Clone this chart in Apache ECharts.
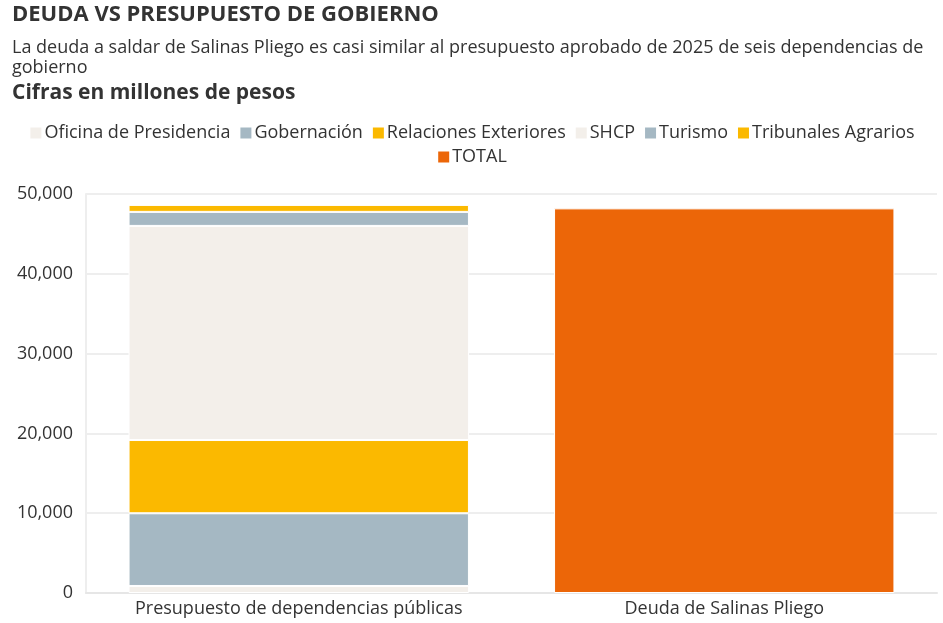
<!DOCTYPE html>
<html>
<head>
<meta charset="utf-8">
<script src="https://cdn.jsdelivr.net/npm/echarts@6/dist/echarts.min.js"></script>
<style>
  html, body { margin: 0; padding: 0; background: #fff; }
  #chart { width: 943px; height: 623px; }
</style>
</head>
<body>
<div id="chart"></div>
<script>
// datos en millones de pesos
const categories = ['Presupuesto de dependencias públicas', 'Deuda de Salinas Pliego'];
const seriesNames = ['Oficina de Presidencia', 'Gobernación', 'Relaciones Exteriores', 'SHCP', 'Turismo', 'Tribunales Agrarios', 'TOTAL'];
const oficina = [880, null];
const gobernacion = [9110, null];
const relaciones = [9180, null];
const shcp = [26830, null];
const turismo = [1760, null];
const tribunales = [870, null];
const total = [null, 48200];
const colors = ['#F3EFEA', '#A5B8C3', '#FBB900', '#F3EFEA', '#A5B8C3', '#FBB900', '#EC6608'];
const yTicks = [0, 10000, 20000, 30000, 40000, 50000];

const values = [oficina, gobernacion, relaciones, shcp, turismo, tribunales, total];
const font = '"Open Sans", "Noto Sans", sans-serif';

const legendBase = {
  left: 'center',
  itemWidth: 13, itemHeight: 13, itemGap: 8,
  icon: 'rect',
  textStyle: { fontSize: 18, color: '#333', padding: [0, 0, 0, -3] }
};

const chart = echarts.init(document.getElementById('chart'));
chart.setOption({
  animation: false,
  textStyle: { fontFamily: font },
  title: [
    {
      text: 'DEUDA VS PRESUPUESTO DE GOBIERNO',
      left: 7, top: -1,
      textStyle: { fontSize: 22, fontWeight: 'bold', color: '#333', fontFamily: font }
    },
    {
      text: 'La deuda a saldar de Salinas Pliego es casi similar al presupuesto aprobado de 2025 de seis dependencias de gobierno',
      left: 7, top: 33,
      textStyle: { fontSize: 18, fontWeight: 'normal', color: '#333', width: 925, overflow: 'break', lineHeight: 20, fontFamily: font }
    },
    {
      text: 'Cifras en millones de pesos',
      left: 7, top: 78,
      textStyle: { fontSize: 21, fontWeight: 'bold', color: '#333', fontFamily: font }
    }
  ],
  color: colors,
  legend: [
    Object.assign({}, legendBase, { top: 119, data: seriesNames.slice(0, 6) }),
    Object.assign({}, legendBase, { top: 143, data: seriesNames.slice(6) })
  ],
  grid: { left: 86, right: 6, top: 194, bottom: 30, containLabel: false },
  xAxis: {
    type: 'category',
    data: categories,
    axisLine: { lineStyle: { color: '#e6e6e6', width: 2 } },
    axisTick: { alignWithLabel: true, lineStyle: { color: '#e0e0e0' } },
    axisLabel: { fontSize: 18, color: '#333', margin: 7, interval: 0 }
  },
  yAxis: {
    type: 'value',
    min: yTicks[0], max: yTicks[yTicks.length - 1], interval: 10000,
    axisLine: { show: true, lineStyle: { color: '#eeeeee', width: 2 } },
    axisTick: { show: false },
    splitLine: { lineStyle: { color: '#eeeeee', width: 2 } },
    axisLabel: {
      fontSize: 18, color: '#333', margin: 13,
      formatter: v => v.toLocaleString('en-US')
    }
  },
  series: seriesNames.map((name, i) => ({
    name: name,
    type: 'bar',
    stack: 'total',
    barWidth: '80%',
    data: values[i],
    itemStyle: { borderColor: '#fff', borderWidth: 1 }
  }))
});
</script>
</body>
</html>
